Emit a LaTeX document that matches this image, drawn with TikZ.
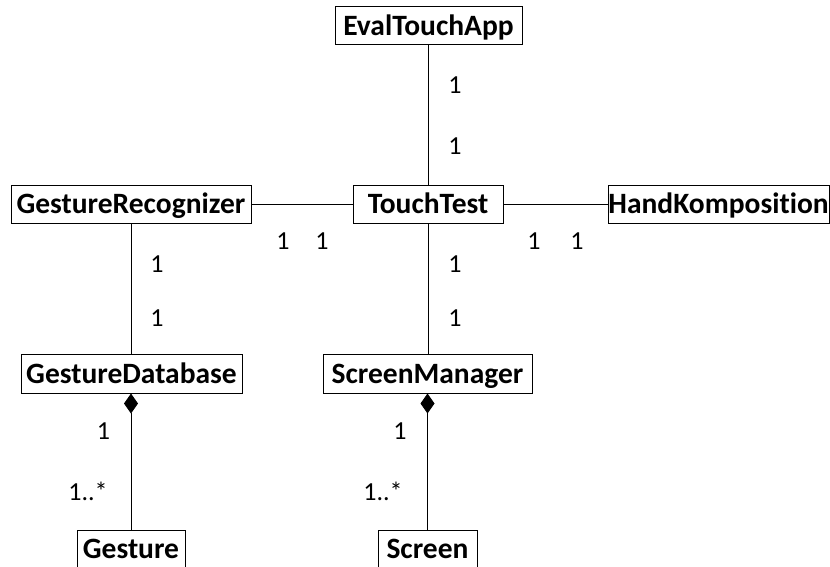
\documentclass[tikz,border=0pt]{standalone}
\usepackage{fontspec}
\setmainfont{Carlito}[Ligatures=NoCommon]
\usetikzlibrary{arrows.meta}
\begin{document}
\begin{tikzpicture}[x=1pt,y=-1pt,
  cls/.style={draw, line width=1pt, inner sep=0pt, minimum height=38pt,
    text height=19pt, text depth=0pt,
    font=\fontsize{29.5}{34}\selectfont\bfseries},
  assoc/.style={line width=0.9pt},
  comp/.style={line width=0.9pt, {Diamond[length=20pt,width=14pt]}-},
  mult/.style={font=\fontsize{26}{30}\selectfont, inner sep=0pt,
    text height=16.5pt, text depth=0pt}]
\useasboundingbox (0,0) rectangle (830,567);

% classes
\node[cls, minimum width=187pt] (eval)    at (428.5,26)  {EvalTouchApp};
\node[cls, minimum width=150pt] (touch)   at (428,204)   {TouchTest};
\node[cls, minimum width=240pt] (rec)     at (131,204)   {GestureRecognizer};
\node[cls, minimum width=221pt] (hand)    at (718.5,204) {HandKomposition};
\node[cls, minimum width=221pt, minimum height=39pt] (gdb) at (131.5,373.5) {GestureDatabase};
\node[cls, minimum width=209pt, minimum height=39pt] (sm)  at (427.5,373.5) {ScreenManager};
\node[cls, minimum width=108pt] (gesture) at (131,549)   {Gesture};
\node[cls, minimum width=99pt]  (screen)  at (427.5,549) {Screen};

% associations
\draw[assoc] (touch.north |- eval.south) -- (touch.north);
\draw[assoc] (rec.east) -- (touch.west);
\draw[assoc] (touch.east) -- (hand.west);
\draw[assoc] (rec.south -| gdb.north) -- (gdb.north);
\draw[assoc] (touch.south) -- (touch.south |- sm.north);

% compositions
\draw[comp] (gdb.south -| gesture.north) -- (gesture.north);
\draw[comp] (sm.south -| screen.north) -- (screen.north);

% multiplicities
\node[mult] (m1)  at (455,85)  {1};
\node[mult] (m2)  at (455,146) {1};
\node[mult] (m3)  at (283,241) {1};
\node[mult] (m4)  at (322,241) {1};
\node[mult] (m5)  at (534,241) {1};
\node[mult] (m6)  at (577,241) {1};
\node[mult] (m7)  at (157,264) {1};
\node[mult] (m8)  at (157,318) {1};
\node[mult] (m9)  at (455,264) {1};
\node[mult] (m10) at (455,318) {1};
\node[mult] (m11) at (103.5,431) {1};
\node[mult] (m12) at (88,492)  {1..*};
\node[mult] (m13) at (400,431) {1};
\node[mult] (m14) at (383,492) {1..*};
\end{tikzpicture}
\end{document}
